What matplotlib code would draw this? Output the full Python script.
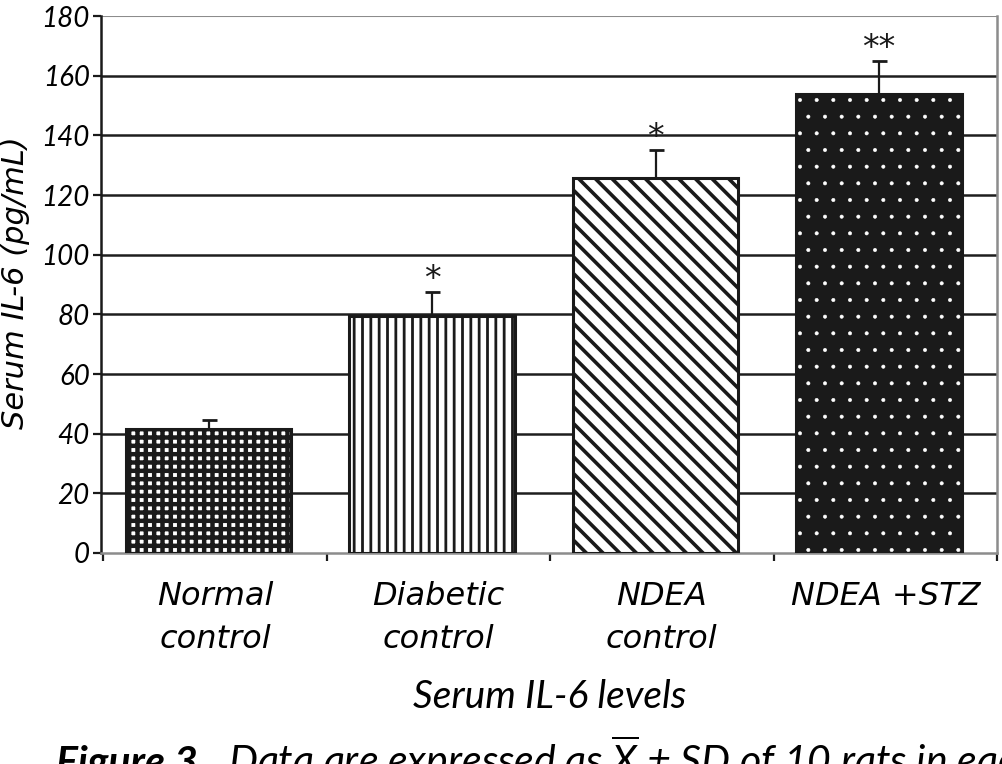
import matplotlib
matplotlib.use("Agg")
import matplotlib.pyplot as plt
import numpy as np

# values
groups = ["Normal\ncontrol", "Diabetic\ncontrol", "NDEA\ncontrol", "NDEA +STZ"]
il6_mean = [41.5, 79.5, 125.7, 154.0]
il6_sd = [3.0, 8.0, 9.5, 11.0]
signif = ["", "*", "*", "**"]
yticks = list(range(0, 181, 20))

plt.rcParams['mathtext.fontset'] = 'custom'
plt.rcParams['mathtext.it'] = 'Lato:italic'
plt.rcParams['mathtext.rm'] = 'Lato:italic'
plt.rcParams['hatch.linewidth'] = 2.0

fig = plt.figure(figsize=(10.02, 7.64), dpi=100)
ax = fig.add_axes([0.1008, 0.2762, 0.8942, 0.7028])

x = np.arange(len(groups))
xb = x - 0.028  # bars sit a bit left of the category centre
width = 0.74
ink = '#1a1a1a'

# gridlines behind the bars
for t in yticks[1:-1]:
    ax.axhline(t, color='#1e1e1e', lw=1.8, zorder=1)
ax.axhline(yticks[-1], color='#8c8c8c', lw=1.5, zorder=1)

# Normal control: dense checker-like pattern
with plt.rc_context({'hatch.linewidth': 3.2}):
    ax.bar(xb[0], il6_mean[0], width, color='white', edgecolor=ink, hatch='++', lw=2.2, zorder=3)
# Diabetic control: vertical stripes
ax.bar(xb[1], il6_mean[1], width, color='white', edgecolor=ink, hatch='||', lw=2.2, zorder=3)
# NDEA control: diagonal stripes
with plt.rc_context({'hatch.linewidth': 2.6}):
    ax.bar(xb[2], il6_mean[2], width, color='white', edgecolor=ink, hatch='\\\\', lw=2.2, zorder=3)
# NDEA + STZ: black with white dots
with plt.rc_context({'hatch.linewidth': 0.4}):
    ax.bar(xb[3], il6_mean[3], width, color=ink, edgecolor='white', hatch='.', lw=0, zorder=3)
ax.bar(xb[3], il6_mean[3], width, fill=False, edgecolor=ink, lw=2.2, zorder=4)

ax.errorbar(xb, il6_mean, yerr=[np.zeros(len(x)), il6_sd], fmt='none', ecolor=ink,
            elinewidth=1.6, capsize=5.4, capthick=2.0, zorder=2)

for xi, m, s, lab in zip(xb, il6_mean, il6_sd, signif):
    if lab:
        ax.text(xi, m + s + 1.0, lab, ha='center', va='baseline', fontsize=24,
                family='DejaVu Sans', color=ink)

ax.set_xlim(-0.51, len(groups) - 0.5)
ax.set_ylim(0, 180)
ax.set_yticks(yticks)
ax.set_yticklabels([str(t) for t in yticks], family='Lato', style='italic', fontsize=20)
ax.tick_params(axis='y', direction='out', length=6, width=1.6, color=ink, pad=2)

ax.set_xticks(x)
ax.set_xticklabels(groups, family='DejaVu Sans', style='italic', fontsize=23, linespacing=1.5)
ax.tick_params(axis='x', length=0, pad=20)
ax.set_xticks(np.arange(-0.5, len(groups)), minor=True)
ax.tick_params(axis='x', which='minor', direction='out', length=6, width=1.6, color=ink)

ax.spines['left'].set_color(ink)
ax.spines['left'].set_linewidth(1.8)
ax.spines['bottom'].set_color('#8c8c8c')
ax.spines['bottom'].set_linewidth(1.8)
ax.spines['right'].set_color('#8c8c8c')
ax.spines['right'].set_linewidth(1.8)
ax.spines['top'].set_visible(False)

fig.text(16 / 1002, 1 - 283 / 764, 'Serum IL-6 (pg/mL)', rotation=90, ha='center', va='center',
         family='DejaVu Sans', style='italic', fontsize=22)
fig.text(0.549, 1 - 697 / 764, 'Serum IL-6 levels', ha='center', va='center',
         family='Lato', style='italic', fontsize=28)

# caption (cut at the bottom edge like the original)
cap1 = fig.text(0.056, -0.015, 'Figure 3.', ha='left', va='baseline', family='Lato',
                style='italic', weight='bold', fontsize=29.5)
fig.canvas.draw()
bb = cap1.get_window_extent()
fig.text(bb.x1 / fig.bbox.width + 0.02, -0.015,
         r'Data are expressed as $\overline{X}$ ± SD of 10 rats in each group',
         ha='left', va='baseline', family='Lato', style='italic', fontsize=29.5)

fig.savefig('out.png', dpi=100)
